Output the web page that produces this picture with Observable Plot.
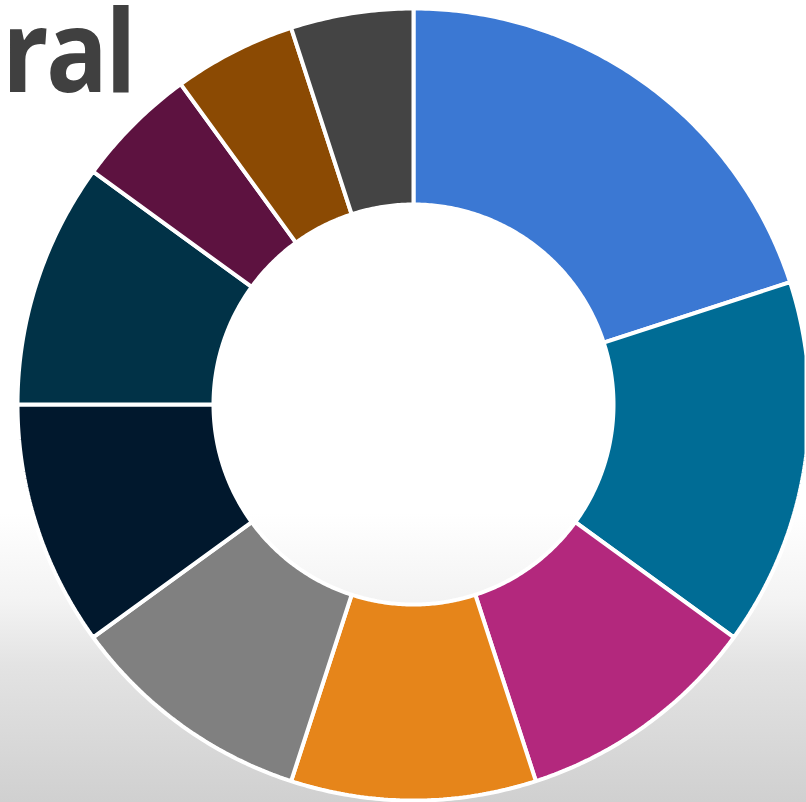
<!DOCTYPE html>
<html>
<head>
<meta charset="utf-8">
<script src="https://cdn.jsdelivr.net/npm/d3@7"></script>
<script src="https://cdn.jsdelivr.net/npm/@observablehq/plot@0.6"></script>
<style>
  html, body { margin: 0; padding: 0; width: 806px; height: 802px; overflow: hidden; }
  body { background: linear-gradient(to bottom, #ffffff 0%, #ffffff 64%, #f3f3f3 75%, #e3e3e3 83%, #d0d0d0 100%); position: relative; }
  #title { position: absolute; left: 2px; top: 0px; line-height: 96px; font-family: "Open Sans", sans-serif; font-weight: 700; font-size: 114px; color: #404040; letter-spacing: -3px; transform: scaleX(0.9); transform-origin: left top; z-index: 2; }
  #chart { position: absolute; left: 0; top: 0; }
</style>
</head>
<body>
<div id="title">ral</div>
<div id="chart"></div>
<script>
// Data: slice categories (clockwise from 12 o'clock), shares and colours
const categories = ["A", "B", "C", "D", "E", "F", "G", "H", "I", "J"];
const values = [20, 15, 10, 10, 10, 10, 10, 5, 5, 5];
const colors = ["#3b78d3", "#006c95", "#b3287d", "#e6851a", "#808080", "#01182d", "#013247", "#5d1240", "#8b4a03", "#444444"];

const W = 806, H = 802;
const cx = 413, cy = 404, R = 396, r0 = 200;

const table = categories.map((c, i) => ({category: c, value: values[i]}));
const pie = d3.pie().sort(null).value(d => d.value)(table);

// Build polygons in unit space (outer radius = 1), y pointing down
const innerRatio = r0 / R;
function ring(a0, a1) {
  const n = Math.max(8, Math.ceil((a1 - a0) / 0.01));
  const outer = d3.range(n + 1).map(k => {
    const a = a0 + (a1 - a0) * k / n;
    return [Math.sin(a), -Math.cos(a)];
  });
  const inner = d3.range(n + 1).map(k => {
    const a = a1 - (a1 - a0) * k / n;
    return [innerRatio * Math.sin(a), -innerRatio * Math.cos(a)];
  });
  const coords = outer.concat(inner);
  coords.push(coords[0]);
  return coords;
}
const features = pie.map(p => ({
  type: "Feature",
  properties: {category: p.data.category, value: p.data.value},
  geometry: {type: "Polygon", coordinates: [ring(p.startAngle, p.endAngle)]}
}));

const domain = {type: "MultiPoint", coordinates: [[-cx / R, -cy / R], [(W - cx) / R, (H - cy) / R]]};

const chart = Plot.plot({
  width: W,
  height: H,
  margin: 0,
  style: {background: "transparent", overflow: "visible"},
  projection: {type: "identity", domain},
  color: {domain: categories, range: colors},
  marks: [
    Plot.geo(features, {fill: d => d.properties.category, stroke: "white", strokeWidth: 4, strokeLinejoin: "miter"})
  ]
});
document.getElementById("chart").appendChild(chart);
</script>
</body>
</html>
